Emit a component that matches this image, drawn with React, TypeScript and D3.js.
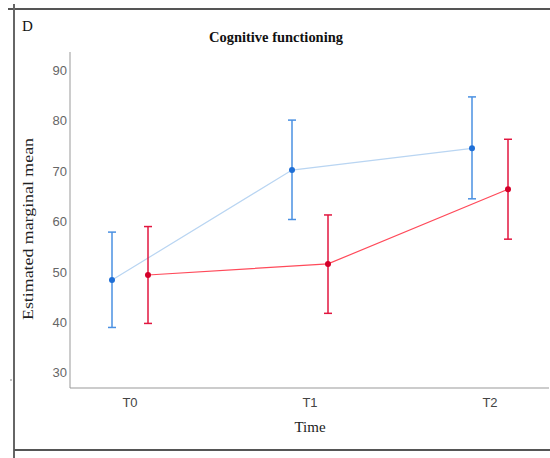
import React from "react";
import * as d3 from "d3";

// data
const times = ["T0", "T1", "T2"];
const yTicks = [30, 40, 50, 60, 70, 80, 90];

const blueMean = [48.4, 70.2, 74.5];
const blueLow = [39.0, 60.4, 64.5];
const blueHigh = [57.9, 80.1, 84.7];

const redMean = [49.4, 51.6, 66.4];
const redLow = [39.8, 41.8, 56.5];
const redHigh = [59.0, 61.3, 76.3];

const App = () => {
  const width = 550;
  const height = 458;

  // plot area
  const left = 70;
  const right = 549;
  const top = 52;
  const bottom = 388;

  const yScale = d3.scaleLinear().domain([27, 93.6]).range([bottom, top]);
  const xScale = d3.scalePoint().domain(times).range([130, 490]);

  const series = [
    { mean: blueMean, low: blueLow, high: blueHigh, dx: -18, bar: "#4a90e2", dot: "#1f6fd6", line: "#b9d5f2" },
    { mean: redMean, low: redLow, high: redHigh, dx: 18, bar: "#e2163f", dot: "#d4002a", line: "#ff4a5a" },
  ];

  const serif = "'Liberation Serif', 'Times New Roman', serif";
  const sans = "'Liberation Sans', Arial, sans-serif";

  return (
    <svg
      width={width}
      height={height}
      style={{ position: "absolute", left: 0, top: 0, background: "#fff" }}
    >
      {/* frame lines of the figure panel */}
      <line x1={8} x2={550} y1={9} y2={9} stroke="#555" strokeWidth={2} />
      <line x1={14} x2={14} y1={4} y2={458} stroke="#666" strokeWidth={2} />
      <line x1={14} x2={550} y1={450} y2={450} stroke="#555" strokeWidth={2} />
      <circle cx={11} cy={380} r={0.8} fill="#777" />

      <text x={22} y={31} fontFamily={serif} fontSize={15} fill="#111">D</text>
      <text x={276} y={42} textAnchor="middle" fontFamily={serif} fontSize={14} fontWeight="bold" fill="#111"
        textLength={134} lengthAdjust="spacingAndGlyphs">
        Cognitive functioning
      </text>

      {/* axes */}
      <line x1={left} x2={left} y1={top} y2={bottom} stroke="#999" strokeWidth={1} />
      <line x1={left} x2={right} y1={bottom} y2={bottom} stroke="#999" strokeWidth={1} />

      {yTicks.map((t) => (
        <text key={t} x={67} y={yScale(t)} dy="0.35em" textAnchor="end" fontFamily={sans} fontSize={13} fill="#666">
          {t}
        </text>
      ))}
      {times.map((t) => (
        <text key={t} x={xScale(t)} y={407} textAnchor="middle" fontFamily={sans} fontSize={13} fill="#444">
          {t}
        </text>
      ))}

      <text x={310} y={432} textAnchor="middle" fontFamily={serif} fontSize={15} fill="#222">Time</text>
      <text
        transform={`translate(33, 229) rotate(-90)`}
        textAnchor="middle"
        fontFamily={serif}
        fontSize={14.5}
        fill="#222"
        textLength={182}
        lengthAdjust="spacingAndGlyphs"
      >
        Estimated marginal mean
      </text>

      {series.map((s, si) => {
        const line = d3
          .line<number>()
          .x((d, i) => (xScale(times[i]) as number) + s.dx)
          .y((d) => yScale(d));
        return (
          <g key={si}>
            <path d={line(s.mean) || ""} fill="none" stroke={s.line} strokeWidth={1.2} />
            {s.mean.map((m, i) => {
              const x = (xScale(times[i]) as number) + s.dx;
              return (
                <g key={i}>
                  <line x1={x} x2={x} y1={yScale(s.low[i])} y2={yScale(s.high[i])} stroke={s.bar} strokeWidth={1.5} />
                  <line x1={x - 4} x2={x + 4} y1={yScale(s.low[i])} y2={yScale(s.low[i])} stroke={s.bar} strokeWidth={1.5} />
                  <line x1={x - 4} x2={x + 4} y1={yScale(s.high[i])} y2={yScale(s.high[i])} stroke={s.bar} strokeWidth={1.5} />
                  <circle cx={x} cy={yScale(m)} r={3} fill={s.dot} />
                </g>
              );
            })}
          </g>
        );
      })}
    </svg>
  );
};

export default App;
